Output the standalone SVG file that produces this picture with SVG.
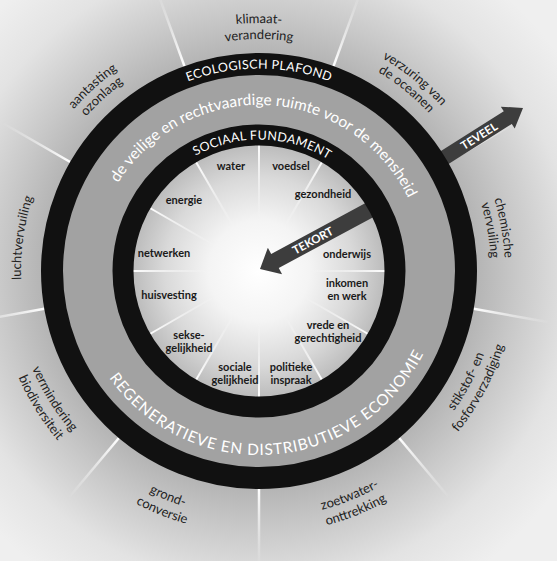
<svg xmlns="http://www.w3.org/2000/svg" width="557" height="561" viewBox="0 0 557 561">
<defs>
  <radialGradient id="halo" cx="259" cy="271" r="370" gradientUnits="userSpaceOnUse">
    <stop offset="0.58" stop-color="#b3b3b3"/>
    <stop offset="0.7" stop-color="#c9c9c9"/>
    <stop offset="0.85" stop-color="#e3e3e3"/>
    <stop offset="1" stop-color="#efefef"/>
  </radialGradient>
  <radialGradient id="core" cx="259" cy="271" r="126" gradientUnits="userSpaceOnUse">
    <stop offset="0" stop-color="#ffffff"/>
    <stop offset="0.4" stop-color="#f4f4f4"/>
    <stop offset="0.75" stop-color="#d9d9d9"/>
    <stop offset="1" stop-color="#bcbcbc"/>
  </radialGradient>
  <linearGradient id="ospk" gradientUnits="userSpaceOnUse" x1="0" y1="53" x2="0" y2="-25">
    <stop offset="0" stop-color="#fff" stop-opacity="1"/>
    <stop offset="1" stop-color="#fff" stop-opacity="0"/>
  </linearGradient>
  <linearGradient id="ispk" gradientUnits="userSpaceOnUse" x1="0" y1="145" x2="0" y2="220">
    <stop offset="0" stop-color="#fff" stop-opacity="1"/>
    <stop offset="1" stop-color="#fff" stop-opacity="0"/>
  </linearGradient>
  <!-- clockwise arcs centred at top -->
  <path id="cw248" d="M69,111.6 A248,248 0 0 1 449,111.6"/>
  <path id="cw246" d="M70.6,112.9 A246,246 0 0 1 447.4,112.9"/>
  <path id="cw232" d="M81.3,121.9 A232,232 0 0 1 436.7,121.9"/>
  <path id="cw238" d="M76.7,118 A238,238 0 0 1 441.3,118"/>
  <!-- counter-clockwise arcs centred at bottom -->
  <path id="ccw240" d="M75.2,425.3 A240,240 0 0 0 442.8,425.3"/>
  <path id="ccw256" d="M62.9,435.6 A256,256 0 0 0 455.1,435.6"/>
  <path id="ccw247" d="M69.8,429.8 A247,247 0 0 0 448.2,429.8"/>
  <path id="ccw263" d="M57.5,440.1 A263,263 0 0 0 460.5,440.1"/>
  <!-- ring texts -->
  <path id="ecoPath" d="M103.9,140.8 A202.5,202.5 0 0 1 414.1,140.8"/>
  <path id="socPath" d="M158.3,186.5 A131.5,131.5 0 0 1 359.7,186.5"/>
  <path id="bandTop" d="M95.5,242.2 A166,166 0 0 1 422.5,242.2"/>
  <path id="bandBot" d="M77.8,303 A184,184 0 0 0 440.2,303"/>
</defs>
<style>
  .olab{font-family:Lato,"Open Sans",sans-serif;font-size:13px;fill:#222;text-anchor:middle;}
  .ilab{font-family:Lato,"Open Sans",sans-serif;font-size:11px;font-weight:700;fill:#1a1a1a;text-anchor:middle;}
  .ring{fill:none;stroke:#111;}
  .rt{font-family:Lato,"Open Sans",sans-serif;fill:#fff;text-anchor:middle;}
  .ospoke{stroke:url(#ospk);stroke-width:2.5;}
  .ispoke{stroke:url(#ispk);stroke-width:2;}
  .arrow{fill:#3d3d3d;}
  .atext{font-family:Lato,"Open Sans",sans-serif;font-weight:700;font-size:11.5px;fill:#fff;text-anchor:middle;}
</style>

<g id="background">
  <rect x="0" y="0" width="557" height="561" fill="#efefef"/>
  <circle cx="259" cy="271" r="370" fill="url(#halo)"/>
  <g id="outer-spokes">
    <line class="ospoke" x1="259" y1="53" x2="259" y2="-25" transform="rotate(20 259 271)"/>
    <line class="ospoke" x1="259" y1="53" x2="259" y2="-25" transform="rotate(60 259 271)"/>
    <line class="ospoke" x1="259" y1="53" x2="259" y2="-25" transform="rotate(100 259 271)"/>
    <line class="ospoke" x1="259" y1="53" x2="259" y2="-25" transform="rotate(140 259 271)"/>
    <line class="ospoke" x1="259" y1="53" x2="259" y2="-25" transform="rotate(180 259 271)"/>
    <line class="ospoke" x1="259" y1="53" x2="259" y2="-25" transform="rotate(220 259 271)"/>
    <line class="ospoke" x1="259" y1="53" x2="259" y2="-25" transform="rotate(260 259 271)"/>
    <line class="ospoke" x1="259" y1="53" x2="259" y2="-25" transform="rotate(300 259 271)"/>
    <line class="ospoke" x1="259" y1="53" x2="259" y2="-25" transform="rotate(340 259 271)"/>
  </g>
</g>

<g id="connectors">
  <g id="teveel" transform="translate(523,108) rotate(-32.3)">
    <polygon class="arrow" points="0,0 -18,-13 -18,-7.5 -105,-7.5 -105,7.5 -18,7.5 -18,13"/>
    <text class="atext" x="-52" y="4.2">TEVEEL</text>
  </g>
</g>

<g id="band">
  <circle cx="259" cy="271" r="205" fill="#a2a2a2"/>
  <circle class="ring" cx="259" cy="271" r="207" stroke-width="22"/>
  <circle cx="259" cy="271" r="130" fill="url(#core)"/>
  <g id="inner-spokes">
    <line class="ispoke" x1="259" y1="145" x2="259" y2="220" transform="rotate(0 259 271)"/>
    <line class="ispoke" x1="259" y1="145" x2="259" y2="220" transform="rotate(30 259 271)"/>
    <line class="ispoke" x1="259" y1="145" x2="259" y2="220" transform="rotate(60 259 271)"/>
    <line class="ispoke" x1="259" y1="145" x2="259" y2="220" transform="rotate(90 259 271)"/>
    <line class="ispoke" x1="259" y1="145" x2="259" y2="220" transform="rotate(120 259 271)"/>
    <line class="ispoke" x1="259" y1="145" x2="259" y2="220" transform="rotate(150 259 271)"/>
    <line class="ispoke" x1="259" y1="145" x2="259" y2="220" transform="rotate(180 259 271)"/>
    <line class="ispoke" x1="259" y1="145" x2="259" y2="220" transform="rotate(210 259 271)"/>
    <line class="ispoke" x1="259" y1="145" x2="259" y2="220" transform="rotate(240 259 271)"/>
    <line class="ispoke" x1="259" y1="145" x2="259" y2="220" transform="rotate(270 259 271)"/>
    <line class="ispoke" x1="259" y1="145" x2="259" y2="220" transform="rotate(300 259 271)"/>
    <line class="ispoke" x1="259" y1="145" x2="259" y2="220" transform="rotate(330 259 271)"/>
  </g>
</g>

<g id="tekort" transform="translate(260,269) rotate(-28.3)">
  <polygon class="arrow" points="0,0 17,-15 17,-8 130,-8 130,8 17,8 17,15"/>
  <text class="atext" x="60" y="4.2">TEKORT</text>
</g>

<g id="rings">
  <circle class="ring" cx="259" cy="271" r="136" stroke-width="21"/>
</g>

<g id="ecologisch-plafond">
  <text class="rt" font-size="12.5" letter-spacing="0.3"><textPath href="#ecoPath" startOffset="50%">ECOLOGISCH PLAFOND</textPath></text>
</g>
<g id="sociaal-fundament">
  <text class="rt" font-size="12.5" letter-spacing="0.3" transform="rotate(1.5 259 271)"><textPath href="#socPath" startOffset="50%">SOCIAAL FUNDAMENT</textPath></text>
</g>
<g id="veilige-ruimte">
  <text class="rt" font-size="15.5" transform="rotate(3 259 271)"><textPath href="#bandTop" startOffset="50%">de veilige en rechtvaardige ruimte voor de mensheid</textPath></text>
</g>
<g id="economie">
  <text class="rt" font-size="15.5" letter-spacing="0.8" transform="rotate(-4.5 259 271)"><textPath href="#bandBot" startOffset="50%">REGENERATIEVE EN DISTRIBUTIEVE ECONOMIE</textPath></text>
</g>

<g id="klimaatverandering">
  <text class="olab" font-size="12.5"><textPath href="#cw248" startOffset="50%">klimaat-</textPath></text>
  <text class="olab" font-size="12.5"><textPath href="#cw232" startOffset="50%">verandering</textPath></text>
</g>
<g id="verzuring">
  <text class="olab" transform="rotate(39 259 271)"><textPath href="#cw246" startOffset="50%">verzuring van</textPath></text>
  <text class="olab" transform="rotate(39 259 271)"><textPath href="#cw232" startOffset="50%">de oceanen</textPath></text>
</g>
<g id="chemische-vervuiling">
  <text class="olab" transform="rotate(80 259 271)"><textPath href="#cw246" startOffset="50%">chemische</textPath></text>
  <text class="olab" transform="rotate(80 259 271)"><textPath href="#cw232" startOffset="50%">vervuiling</textPath></text>
</g>
<g id="stikstof">
  <text class="olab" transform="rotate(-62 259 271)"><textPath href="#ccw240" startOffset="50%">stikstof- en</textPath></text>
  <text class="olab" transform="rotate(-62 259 271)"><textPath href="#ccw256" startOffset="50%">fosforverzadiging</textPath></text>
</g>
<g id="zoetwater">
  <text class="olab" transform="rotate(-22 259 271)"><textPath href="#ccw247" startOffset="50%">zoetwater-</textPath></text>
  <text class="olab" transform="rotate(-22 259 271)"><textPath href="#ccw263" startOffset="50%">onttrekking</textPath></text>
</g>
<g id="grondconversie">
  <text class="olab" transform="rotate(22 259 271)"><textPath href="#ccw247" startOffset="50%">grond-</textPath></text>
  <text class="olab" transform="rotate(22 259 271)"><textPath href="#ccw263" startOffset="50%">conversie</textPath></text>
</g>
<g id="biodiversiteit">
  <text class="olab" transform="rotate(58 259 271)"><textPath href="#ccw247" startOffset="50%">vermindering</textPath></text>
  <text class="olab" transform="rotate(58 259 271)"><textPath href="#ccw263" startOffset="50%">biodiversiteit</textPath></text>
</g>
<g id="luchtvervuiling">
  <text class="olab" transform="rotate(278 259 271)"><textPath href="#cw238" startOffset="50%">luchtvervuiling</textPath></text>
</g>
<g id="ozonlaag">
  <text class="olab" transform="rotate(318 259 271)"><textPath href="#cw246" startOffset="50%">aantasting</textPath></text>
  <text class="olab" transform="rotate(318 259 271)"><textPath href="#cw232" startOffset="50%">ozonlaag</textPath></text>
</g>

<g id="water"><text class="ilab" x="231" y="170">water</text></g>
<g id="voedsel"><text class="ilab" x="291" y="170">voedsel</text></g>
<g id="gezondheid"><text class="ilab" x="323" y="198">gezondheid</text></g>
<g id="onderwijs"><text class="ilab" x="347" y="258">onderwijs</text></g>
<g id="inkomen"><text class="ilab" x="347" y="287">inkomen<tspan x="347" dy="12.5">en werk</tspan></text></g>
<g id="vrede"><text class="ilab" x="328" y="329">vrede en<tspan x="328" dy="12.5">gerechtigheid</tspan></text></g>
<g id="politieke"><text class="ilab" x="291" y="371">politieke<tspan x="291" dy="12.5">inspraak</tspan></text></g>
<g id="sociale"><text class="ilab" x="235" y="371">sociale<tspan x="235" dy="12.5">gelijkheid</tspan></text></g>
<g id="sekse"><text class="ilab" x="189" y="339">sekse-<tspan x="189" dy="12.5">gelijkheid</tspan></text></g>
<g id="huisvesting"><text class="ilab" x="169" y="299">huisvesting</text></g>
<g id="netwerken"><text class="ilab" x="164" y="257">netwerken</text></g>
<g id="energie"><text class="ilab" x="184" y="204">energie</text></g>
</svg>
